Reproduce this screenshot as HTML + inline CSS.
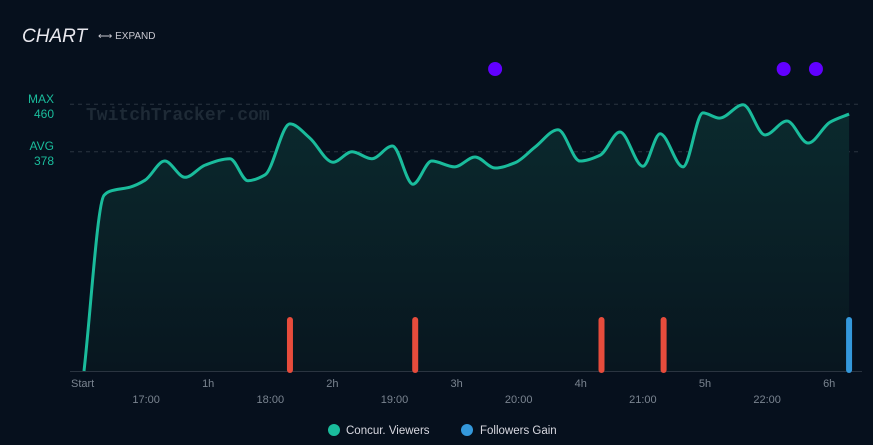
<!DOCTYPE html>
<html><head><meta charset="utf-8">
<style>
html,body{margin:0;padding:0;background:#06101d;width:873px;height:445px;overflow:hidden;font-family:"Liberation Sans",sans-serif}
svg{display:block}
</style></head>
<body>
<svg id="chart" width="873" height="445" xmlns="http://www.w3.org/2000/svg">
<defs>
<linearGradient id="fillg" x1="0" y1="0" x2="0" y2="1">
<stop offset="0" stop-color="#0b2a2e"/><stop offset="1" stop-color="#08161f"/>
</linearGradient>
</defs>
<text x="22" y="42" fill="#e8e8ee" font-size="19" font-style="italic">CHART</text>
<g>
<text x="98" y="39" fill="#c8c8d0" font-size="10">⟷ EXPAND</text>
</g>
<text x="86" y="120" fill="#1e2a36" font-size="18" font-family="Liberation Mono,monospace" font-weight="bold">TwitchTracker.com</text>
<text x="54" y="103" fill="#1abc9c" font-size="12" text-anchor="end">MAX</text>
<text x="54" y="118" fill="#1abc9c" font-size="12" text-anchor="end">460</text>
<text x="54" y="150" fill="#1abc9c" font-size="12" text-anchor="end">AVG</text>
<text x="54" y="165" fill="#1abc9c" font-size="12" text-anchor="end">378</text>
<g id="plot"></g>
<g>
<g><circle cx="334" cy="430" r="6" fill="#1abc9c"/><text x="346" y="434" fill="#d8d8e0" font-size="11.5">Concur. Viewers</text></g>
<g><circle cx="467" cy="430" r="6" fill="#3498db"/><text x="480" y="434" fill="#d8d8e0" font-size="11.5">Followers Gain</text></g>
</g>
</svg>
<script>
const times=[0,9.7,12.6,22.2,29.5,39,48.8,58.5,70.5,79.2,87.4,99.5,109,120.3,129.5,139,149,158.9,168,179,188.9,198.6,208.2,217.9,229,239.6,249.3,258.9,270,278.3,289.4,299,307,318.4,329,339.6,349.8,360.4,369.6];
const viewers=[0,303,310,317,329,362,334,355,366,328,338,426,402,360,378,366,388,322,362,352,369,350,359,386,416,362,372,412,353,409,352,445,436,459,407,431,393,429,443];
const followerTimes=[99.5,160,250,280,369.6];
const followerValues=[1,1,1,1,1];
const followerColors=["#e74c3c","#e74c3c","#e74c3c","#e74c3c","#3498db"];
const eventTimes=[198.6,338,353.6];
const hourTicks=["Start","1h","2h","3h","4h","5h","6h"];
const clockTicks=["17:00","18:00","19:00","20:00","21:00","22:00"];
const maxV=460, avgV=378;

const NS="http://www.w3.org/2000/svg";
const x=t=>84+t*124.2/60;
const y=v=>371-v*0.58;
const fy=v=>371-v*54;
const g=document.getElementById('plot');
function el(n,a){const e=document.createElementNS(NS,n);for(const k in a)e.setAttribute(k,a[k]);g.appendChild(e);return e;}

const gmax=el('line',{x1:70,x2:862,y1:y(maxV),y2:y(maxV),stroke:'#2a3440','stroke-dasharray':'4,4'});


const gavg=el('line',{x1:70,x2:862,y1:y(avgV),y2:y(avgV),stroke:'#2a3440','stroke-dasharray':'4,4'});



// monotone cubic interpolation
const pts=times.map((t,i)=>[x(t),y(viewers[i])]);
const n=pts.length;
const dx=[],sl=[];
for(let i=0;i<n-1;i++){dx[i]=pts[i+1][0]-pts[i][0];sl[i]=(pts[i+1][1]-pts[i][1])/dx[i];}
const m=[];
m[0]=sl[0];m[n-1]=sl[n-2];
for(let i=1;i<n-1;i++){
 if(sl[i-1]*sl[i]<=0)m[i]=0;
 else{const w1=2*dx[i]+dx[i-1],w2=dx[i]+2*dx[i-1];m[i]=(w1+w2)/(w1/sl[i-1]+w2/sl[i]);}
}
let d=`M${pts[0][0]},${pts[0][1]}`;
for(let i=0;i<n-1;i++){
 const h=dx[i]/3;
 d+=` C${pts[i][0]+h},${pts[i][1]+m[i]*h} ${pts[i+1][0]-h},${pts[i+1][1]-m[i+1]*h} ${pts[i+1][0]},${pts[i+1][1]}`;
}
const area=el('path',{d:d+` L${pts[n-1][0]},371 L${pts[0][0]},371 Z`,fill:'url(#fillg)'});



const axis=el('line',{x1:70,x2:862,y1:371.5,y2:371.5,stroke:'#2a3440','stroke-width':1});



followerTimes.forEach((t,i)=>{
 const h=371-fy(followerValues[i]);
 const b=el('rect',{x:x(t)-3,y:fy(followerValues[i]),width:6,height:h+2,rx:3,fill:followerColors[i]});
 
 
});

const line=el('path',{d:d,fill:'none',stroke:'#1abc9c','stroke-width':3,'stroke-linejoin':'round'});



eventTimes.forEach(t=>{
 const c=el('circle',{cx:x(t),cy:69,r:7,fill:'#6200ff'});
 
 
});

hourTicks.forEach((s,i)=>{
 const tx=el('text',{x:x(i*60)+(i===0?-13:0),y:387,fill:'#7a8490','font-size':11,'text-anchor':i===0?'start':'middle'});
 tx.textContent=s;
 
 
});
clockTicks.forEach((s,i)=>{
 const tx=el('text',{x:x(30+i*60),y:403,fill:'#7a8490','font-size':11,'text-anchor':'middle'});
 tx.textContent=s;
 
 
});
</script>
</body></html>
